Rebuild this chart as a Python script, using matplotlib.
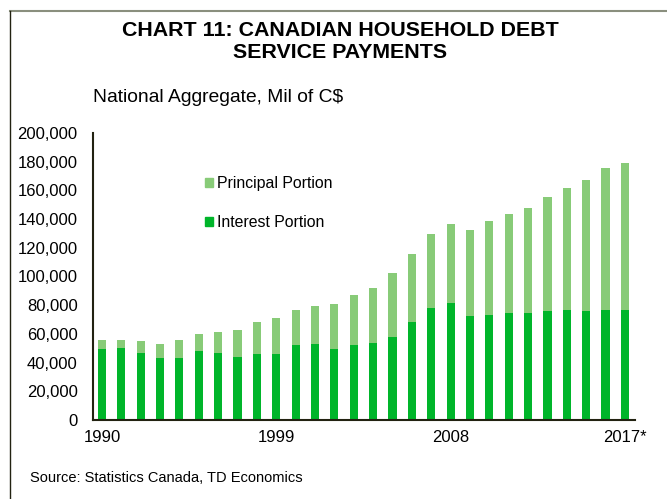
import matplotlib

matplotlib.use("Agg")
import matplotlib.pyplot as plt
from matplotlib.lines import Line2D
from matplotlib.patches import Patch

plt.rcParams["font.family"] = ["Liberation Sans", "DejaVu Sans"]

years = list(range(1990, 2018))
interest = [49.5, 50.2, 46.9, 43.4, 43.4, 48.1, 46.9, 44.1, 46.2, 46.2,
            52.3, 53.0, 49.5, 52.3, 53.7, 58.1, 68.3, 78.3, 81.5, 72.7,
            73.4, 74.8, 74.8, 76.0, 76.7, 76.0, 76.9, 76.9]
total = [55.7, 55.7, 54.8, 53.2, 55.5, 60.2, 61.3, 62.9, 68.5, 71.0,
         76.9, 79.2, 81.1, 87.1, 92.2, 102.4, 115.4, 129.6, 136.3, 132.2,
         138.7, 143.8, 148.0, 155.2, 161.7, 167.0, 175.4, 179.1]
interest = [v * 1000 for v in interest]
principal = [t * 1000 - i for t, i in zip(total, interest)]

xtick_years = [1990, 1999, 2008, 2017]
xtick_labels = ["1990", "1999", "2008", "2017*"]

c_int = "#00B52A"
c_pri = "#88CB78"

fig = plt.figure(figsize=(6.67, 4.99), dpi=100)
ax = fig.add_axes([93 / 667, 1 - 420 / 499, 542 / 667, 287 / 499])

ax.bar(years, interest, width=0.42, color=c_int, edgecolor="none")
ax.bar(years, principal, bottom=interest, width=0.42, color=c_pri, edgecolor="none")

ax.set_xlim(1989.54, 2017.52)
ax.set_ylim(0, 200000)
ax.set_yticks(range(0, 200001, 20000))
ax.set_yticklabels([f"{v:,}" for v in range(0, 200001, 20000)], fontsize=12)
ax.set_xticks(xtick_years)
ax.set_xticklabels(xtick_labels, fontsize=12)
ax.tick_params(axis="x", length=0, pad=7)
ax.tick_params(axis="y", length=0, pad=11)

for s in ["top", "right"]:
    ax.spines[s].set_visible(False)
for s in ["left", "bottom"]:
    ax.spines[s].set_color("#222211")
    ax.spines[s].set_linewidth(1.5)

handles = [Patch(color=c_pri), Patch(color=c_int)]
ax.legend(handles, ["Principal Portion", "Interest Portion"], loc="upper left",
          bbox_to_anchor=(0.18, 0.90), frameon=False, fontsize=11.4,
          handlelength=0.5, handleheight=0.5, handletextpad=0.3, labelspacing=1.5)

fig.text(0.51, 1 - 31 / 499, "CHART 11: CANADIAN HOUSEHOLD DEBT", ha="center", va="center",
         fontsize=15.4, fontweight="bold")
fig.text(0.51, 1 - 53 / 499, "SERVICE PAYMENTS", ha="center", va="center",
         fontsize=15.4, fontweight="bold")
fig.text(93 / 667, 1 - 97 / 499, "National Aggregate, Mil of C$", ha="left", va="center",
         fontsize=13.9)
fig.text(30 / 667, 1 - 478 / 499, "Source: Statistics Canada, TD Economics", ha="left",
         va="center", fontsize=10.5)

# frame lines (top and left) around the chart
fig.add_artist(Line2D([10 / 667, 1], [1 - 11 / 499] * 2, color="#8a8f7e", lw=1.5))
fig.add_artist(Line2D([10 / 667] * 2, [0, 1 - 11 / 499], color="#222211", lw=1.0))

fig.savefig("out.png", dpi=100)
